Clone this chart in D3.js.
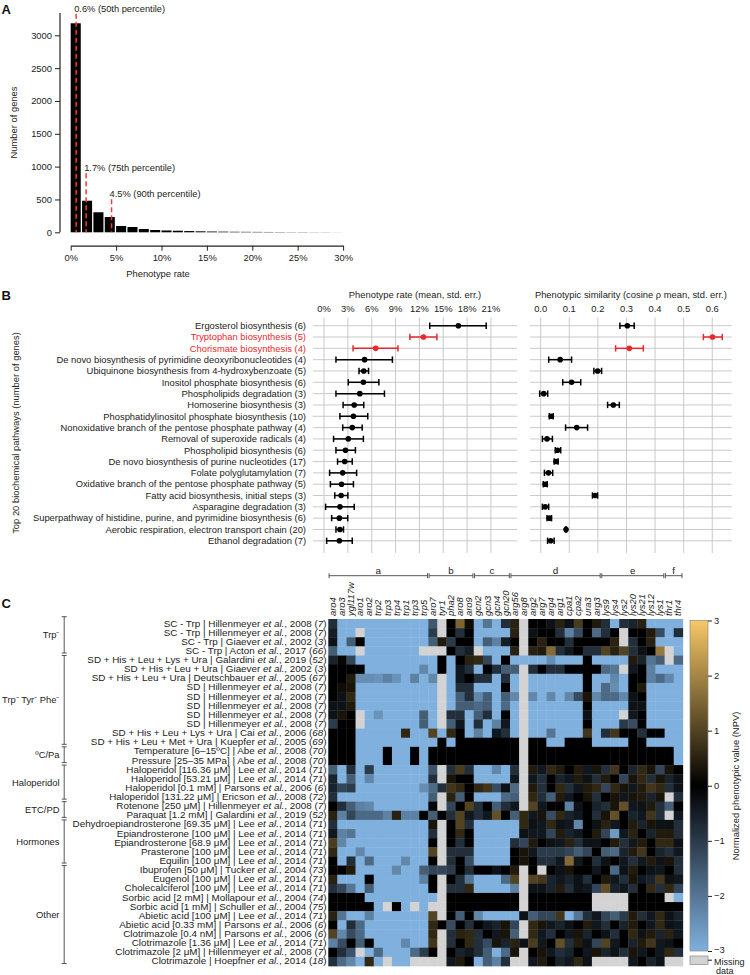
<!DOCTYPE html>
<html><head><meta charset="utf-8">
<script src="https://cdn.jsdelivr.net/npm/d3@7"></script>
<style>
body{margin:0;background:#fff;}
svg{font-family:"Liberation Sans",Arial,Helvetica,sans-serif;}
</style></head><body>
<svg id="chart" width="750" height="975"></svg>
<script>
// ---------------- DATA ----------------
// Panel A: histogram of phenotype rate
const histCounts = [3183, 481, 305, 233, 96, 81, 50, 35, 28, 24, 19, 15, 12, 10, 8, 7, 6, 5, 4, 3, 3, 2, 2, 1];
const histBinWidth = 1.25; // percent
const histYTicks = [0, 500, 1000, 1500, 2000, 2500, 3000];
const histXTicks = [0, 5, 10, 15, 20, 25, 30];
const percentileValues = [0.6, 1.7, 4.5];
const percentileLabels = ["0.6% (50th percentile)", "1.7% (75th percentile)", "4.5% (90th percentile)"];
const percentileLabelAt = [3360, 930, 535]; // in gene counts

// Panel B: pathways
const pathways = ["Ergosterol biosynthesis", "Tryptophan biosynthesis", "Chorismate biosynthesis",
  "De novo biosynthesis of pyrimidine deoxyribonucleotides", "Ubiquinone biosynthesis from 4-hydroxybenzoate",
  "Inositol phosphate biosynthesis", "Phospholipids degradation", "Homoserine biosynthesis",
  "Phosphatidylinositol phosphate biosynthesis", "Nonoxidative branch of the pentose phosphate pathway",
  "Removal of superoxide radicals", "Phospholipid biosynthesis", "De novo biosynthesis of purine nucleotides",
  "Folate polyglutamylation", "Oxidative branch of the pentose phosphate pathway",
  "Fatty acid biosynthesis, initial steps", "Asparagine degradation",
  "Superpathway of histidine, purine, and pyrimidine biosynthesis",
  "Aerobic respiration, electron transport chain", "Ethanol degradation"];
const pathwayGenes = [6, 5, 4, 4, 5, 6, 3, 3, 10, 4, 4, 6, 17, 7, 5, 3, 3, 6, 20, 7];
const highlighted = ["Tryptophan biosynthesis", "Chorismate biosynthesis"];
const rateMean = [16.9, 12.5, 6.5, 5.1, 5.0, 4.95, 4.5, 3.8, 3.7, 3.55, 3.05, 2.7, 2.6, 2.35, 2.2, 2.15, 2.0, 1.93, 2.0, 1.93];
const rateLo   = [13.3, 10.8, 3.65, 1.5, 4.4, 3.05, 1.5, 2.4, 2.0, 2.35, 1.2, 1.5, 1.7, 0.7, 0.8, 1.35, 0.2, 0.96, 1.5, 0.33];
const rateHi   = [20.4, 14.2, 9.3, 8.6, 5.6, 6.9, 7.6, 5.0, 5.5, 4.8, 4.95, 3.95, 3.55, 4.1, 3.7, 3.0, 3.8, 2.98, 2.45, 3.55];
const simMean = [0.303, 0.601, 0.31, 0.068, 0.199, 0.108, 0.0105, 0.254, 0.037, 0.126, 0.022, 0.059, 0.054, 0.027, 0.016, 0.19, 0.016, 0.030, 0.0886, 0.035];
const simLo   = [0.277, 0.569, 0.262, 0.028, 0.186, 0.077, -0.0035, 0.234, 0.030, 0.087, 0.006, 0.051, 0.047, 0.013, 0.009, 0.181, 0.006, 0.022, 0.087, 0.024];
const simHi   = [0.327, 0.635, 0.359, 0.108, 0.213, 0.140, 0.0245, 0.275, 0.044, 0.164, 0.041, 0.070, 0.061, 0.042, 0.023, 0.199, 0.028, 0.038, 0.090, 0.047];
const rateTicks = [0, 3, 6, 9, 12, 15, 18, 21];
const simTicks = [0, 0.1, 0.2, 0.3, 0.4, 0.5, 0.6];

// Panel C: heatmap
const genes = ["aro4","aro3","ygl117w","aro1","aro2","trp2","trp3","trp4","trp1","trp3","trp5","aro7","tyr1","pha2","aro8","aro9","gcn2","gcn3","gcn4","gcn20","arg56","arg8","arg2","arg7","arg4","arg1","cpa1","cpa2","ura3","arg3","lys9","lys4","lys2","lys20","lys21","lys12","lys1","thr1","thr4"];
const geneGroupNames = ["a", "b", "c", "d", "e", "f"];
const geneGroupFirst = [0, 11, 16, 20, 30, 37];
const geneGroupLast  = [10, 15, 19, 29, 36, 38];

const conditions = ["SC - Trp","SC - Trp","SC - Trp","SC - Trp",
  "SD + His + Leu + Lys + Ura","SD + His + Leu + Ura","SD + His + Leu + Ura","SD","SD","SD","SD","SD",
  "SD + His + Leu + Lys + Ura","SD + His + Leu + Met + Ura",
  "Temperature [6\u201315\u00baC]","Pressure [25\u201335 MPa]",
  "Haloperidol [116.36 \u03bcM]","Haloperidol [53.21 \u03bcM]","Haloperidol [0.1 mM]","Haloperidol [131.22 \u03bcM]",
  "Rotenone [250 \u03bcM]","Paraquat [1.2 mM]",
  "Dehydroepiandrosterone [69.35 \u03bcM]","Epiandrosterone [100 \u03bcM]","Epiandrosterone [68.9 \u03bcM]","Prasterone [100 \u03bcM]","Equilin [100 \u03bcM]",
  "Ibuprofen [50 \u03bcM]","Eugenol [100 \u03bcM]","Cholecalciferol [100 \u03bcM]","Sorbic acid [2 mM]","Sorbic acid [1 mM]",
  "Abietic acid [100 \u03bcM]","Abietic acid [0.33 mM]","Clotrimazole [0.4 nM]","Clotrimazole [1.36 \u03bcM]","Clotrimazole [2 \u03bcM]","Clotrimazole"];
const authors = ["Hillenmeyer","Hillenmeyer","Giaever","Acton","Galardini","Giaever","Deutschbauer","Hillenmeyer","Hillenmeyer","Hillenmeyer","Hillenmeyer","Hillenmeyer","Cai","Kuepfer","Abe","Abe","Lee","Lee","Parsons","Ericson","Hillenmeyer","Galardini","Lee","Lee","Lee","Lee","Lee","Tucker","Lee","Lee","Mollapour","Schuller","Lee","Parsons","Parsons","Lee","Hillenmeyer","Hoepfner"];
const years = [2008,2008,2002,2017,2019,2002,2005,2008,2008,2008,2008,2008,2006,2005,2008,2008,2014,2014,2006,2008,2008,2019,2014,2014,2014,2014,2014,2004,2014,2014,2004,2004,2014,2006,2006,2014,2008,2014];
const refs = [7,7,3,66,52,3,67,7,7,7,7,7,68,69,70,70,71,71,6,72,7,52,71,71,71,71,71,73,71,71,74,75,71,6,6,71,7,18];
const condGroupNames = ["Trp\u207b", "Trp\u207b Tyr\u207b Phe\u207b", "\u00baC/Pa", "Haloperidol", "ETC/PD", "Hormones", "Other"];
const condGroupFirst = [0, 4, 14, 16, 20, 22, 27];
const condGroupLast  = [3, 13, 15, 19, 21, 26, 37];

const npv = [
[-0.8,-3,-3,-3,-3,-3,-3,-3,-3,-3,-3,-1.5,null,0,1.5,0.2,-3,-2,-3,-0.8,0.5,null,0,0,-0.3,0.5,-0.3,0.9,0,0.4,-0.8,-3,-0.8,-0.6,0.5,-3,-3,-3,-3],
[-0.5,-3,-3,null,-3,-3,-3,-3,-3,-3,-3,-1.0,null,0,-0.8,0,-3,-3,-3,-3,0.5,null,-0.3,0,0,-0.8,-2.2,-1.3,0,-1.8,-0.8,0,null,0,0,0.4,-1.3,-3,-0.8],
[-0.3,-3,-1.6,0,-3,-3,-3,-3,-3,-3,-3,-1.6,0.4,-1.0,0,0,-3,-1.6,-2.2,-0.5,0,null,0,0.5,0,0,-0.8,0,0,0,0,0.5,null,-0.8,0,0.5,-3,-3,-3],
[-1.6,-3,-3,null,-3,-3,-3,-3,-3,-3,null,null,null,0,-0.8,-0.5,null,-3,-3,-3,0.5,null,0.5,0.4,1.6,-0.8,-0.4,0,-0.8,-0.8,1.0,0.5,1.0,-0.8,-0.3,0,1.8,null,-3],
[-0.6,0.1,-1.2,-3,-3,-3,-3,-3,-3,-3,-3,-3,0,-3,0,0.5,0.6,-1.2,-3,0,-3,-3,-3,-3,-2.4,-3,-3,-3,0,-3,-3,-3,-3,0.4,-0.6,-2.0,-1.6,null,-1.8],
[0,0,0,0,-3,-3,-3,-3,-3,-3,-2.3,-3,0,-3,-0.4,-0.8,-3,0,-0.8,-1.6,-1.6,null,-0.8,0,-0.8,-0.8,0,0,0,0,-1.8,-2.0,null,-0.4,0,-2.2,-3,-3,-3],
[0,0,0.4,-2.4,-2.4,-2.5,-2.2,-2.5,-3,-2.2,-3,-2.3,null,-3,-0.4,0,-0.8,-0.8,-3,-0.8,-3,null,-3,-3,-3,-3,-3,-3,0,-3,-3,-2.3,-3,0,0,-2.2,-1.8,-2.3,-3],
[0,0.2,0.3,-3,-3,-3,-3,-3,-3,-3,-3,-3,null,-3,-0.8,-0.8,-3,-3,-3,0,-3,null,-3,-3,-3,-3,-3,-3,0,-3,-1.8,-2.4,-3,0,0.4,-3,-3,-3,-3],
[0,-0.3,0.6,-3,-3,-3,-3,-3,-3,-3,-3,-3,null,-3,-1.6,-0.8,-2.3,-1.6,-3,-1.6,-2.3,null,-2.3,-3,-2.3,-3,-2.3,-1.3,0.3,-2.3,-1.8,-1.8,-2.3,-0.3,0,-3,-3,-3,-3],
[-0.3,-0.3,0.4,-3,-3,-3,-3,-3,-3,-3,-3,-3,null,-3,-1.6,-1.6,-1.8,-1.6,-3,-1.8,-3,null,-3,-3,-3,-3,-3,-3,0,-3,-3,-3,-3,-0.3,-0.3,-3,-3,-3,-3],
[-0.3,0.3,0,null,-3,-2.5,-3,-3,-3,-3,-1.6,-3,null,-0.8,-0.8,-3,-1.6,-0.8,-3,0,-3,null,-3,-3,-3,-3,-3,-3,-0.3,-3,-3,-3,null,-0.4,0,-3,-3,-3,-3],
[-1.0,0,0,null,-3,-3,-3,-3,-3,-3,-1.6,-3,null,-1.6,-0.4,-3,-0.8,-3,-2.2,-0.4,-3,null,-3,-3,-3,-3,-3,-3,0,-3,-3,-3,-1.0,-1.3,0,-3,-3,-3,-3],
[0,0,0,-3,-3,-3,-3,-3,0.6,-3,-3,1.0,-3,0.6,0,-3,-2.2,-3,-0.4,-0.8,-3,null,-3,-3,-2.0,-3,-3,-3,0.8,-3,-0.8,0.8,0,0,-0.8,0,0,-3,-3],
[0,0,0,-3,-3,-3,-3,-3,-3,-3,-3,-3,0,-3,0,0,0,0,0,0,0,null,0,0,-3,-3,0,0,0,-3,-3,-3,-3,0,0,-3,-3,-3,-3],
[0,0,0,-3,-3,-3,0,-3,-3,0,-3,0,0,0,0,0,0,0,0,0,0,null,0,0,0,0,0,0,0,0,0,0,0,0,0,0,0,0,-3],
[0,0,0,-3,-3,-3,0,-3,-3,0,-3,0,0,0,0,0,0,0,0,0,0,null,0,0,0,0,0,0,0,0,0,0,0,0,0,0,0,0,-3],
[-1.6,-3,-0.8,-3,-1.0,-3,-3,-3,-3,-3,-3,-1.4,null,-0.8,0.9,-0.8,-3,-3,-2.3,-3,-0.8,null,0.4,-0.4,0.6,0.4,0,0.4,-0.4,0.3,-0.8,0.8,0,-0.6,0.6,0.3,-1.2,0.3,0],
[-0.6,-3,-1.6,-3,-2.3,-3,-3,-3,-3,-3,-3,-0.8,null,0.3,0,0,-3,-3,-3,-3,-0.4,null,-0.4,-0.8,0,-0.6,-0.4,0.4,-0.3,-0.8,0.4,0,-1.2,0.3,0.6,-0.8,0.3,-0.6,-0.3],
[-0.6,-1.2,-1.0,-3,-3,-3,-3,-3,-3,-3,-2.4,-1.8,-0.8,0.8,0.6,0,0.6,0.8,-1.3,-0.3,-1.8,null,0.4,-0.8,0,0.6,-0.8,-0.4,0.4,0.6,-1.2,0.6,0.3,-0.4,0.4,0.8,0.6,-0.8,-0.3],
[-0.8,-3,-3,-3,-3,-3,-3,-3,-3,-3,-3,-1.6,null,0.5,-1.6,0,-3,-3,-3,-1.8,-1.6,null,0.6,-0.8,-1.6,0.4,-0.4,0,0.3,-0.8,0,0.3,-0.4,0.3,0.4,-0.6,0.3,null,-0.8],
[0,-0.8,-1.6,-2.2,-2.3,-3,-3,-3,-3,-3,-3,0,null,-1.2,0,1.0,-0.8,0,-1.6,-0.8,-0.4,null,1.0,-0.4,0,0,-2.2,-0.3,0,-0.6,-0.8,0.3,1.2,-0.4,-0.3,0.4,-0.8,-1.6,0],
[0.5,-2.2,-1.2,-1.8,-1.8,-1.8,-2.2,0.5,-2.2,-2.2,0,-1.6,0,-0.8,1.0,-0.4,-0.8,-0.4,1.2,0,-1.6,0.6,-0.4,0.3,-1.3,0.6,-0.6,-0.4,0,-0.8,0.3,1.2,0,-0.6,-0.4,0.8,-0.8,null,-0.4],
[-0.8,-3,-3,-3,-3,-3,-3,-3,-3,-3,-3,0.3,null,0,1.0,-0.8,-3,-3,-3,-3,-3,0.6,-0.3,-0.4,0.6,-0.3,-0.4,-2.3,0,-0.3,0.5,-0.4,0,0.4,-0.6,0.3,-0.3,-0.3,-0.8],
[-0.4,-2.2,-2.0,-3,-3,-3,-3,-3,-3,-3,-3,-0.8,null,0,0.6,0,-3,-3,-3,-3,-3,-0.3,-0.4,-0.4,-1.2,0.4,-0.6,-0.4,0,0.4,-1.2,-2.6,-0.4,0.5,0,-0.6,0.4,0.4,-0.8],
[0.9,-2.3,-3,-3,-3,-3,-3,-3,-3,-3,-3,0,null,0,-0.8,0,-3,-3,-3,-3,-0.8,-1.2,0.4,0,-0.3,-0.4,0.5,-0.8,-0.3,-0.3,0,0.4,-0.8,-0.4,0.4,0,0.6,0.6,-0.3],
[0.6,-3,-3,-2.3,-3,-3,-3,-3,-3,-3,-3,1.0,null,-0.8,-0.8,-0.8,-3,-3,-3,-3,0,0.3,-0.4,-1.0,-1.0,-1.0,-1.2,-1.6,-1.2,0,-1.6,-1.8,-0.6,0.4,0.8,0,-0.6,-0.8,-0.4],
[0,-3,-0.8,-3,-1.8,-3,-3,-3,-2.3,-3,-3,0,null,-0.8,0,-1.3,-3,-3,-3,-3,0,0.3,0,-0.8,-0.8,-0.4,1.6,-0.4,0,-0.8,-0.3,0,-0.4,-0.8,-0.4,0.4,-0.3,0.3,-0.8],
[0,0,0.4,-3,-3,-3,-3,-2.3,-3,-3,-1.6,-1.2,-1.2,-1.0,0,-0.8,0,0,-0.3,0,0.4,null,0,null,0,-0.3,0.3,0,0,-0.4,0,-1.8,-0.3,0.4,0,-0.3,-0.4,0,-0.8],
[0.5,-3,-3,-3,0,-3,-3,-3,-3,-3,-2.2,0,null,0,-0.8,-2.0,-3,-3,-3,-1.8,1.0,null,1.0,0.8,-0.6,-0.4,-0.6,-0.3,-0.8,0,0.4,-0.4,-0.8,0.3,-0.4,-0.6,0.8,-0.3,-0.4],
[-0.8,-1.2,-2.0,-3,-1.6,-3,-3,-3,-3,-3,-3,0,null,-0.8,-0.8,0.6,-3,-3,-3,-3,-2.2,null,-0.3,-0.3,-0.6,0.4,-0.8,-0.3,-0.4,-1.2,1.2,-0.6,-0.4,-0.8,0,0.6,-0.8,0.6,-1.2],
[0,0,0,0,-3,-3,-3,-3,-3,-3,-3,-3,null,0,0,0,0,0,0,0,0,null,0,0,0,0,0,0,0,null,null,null,null,0,0,0,0,null,-3],
[0,0,0,0,0,-3,null,0,-3,null,-3,null,null,0,0,0,0,0,0,0,0,null,0,0,0,0,0,0,0,null,null,null,null,0,0,0,0,0,0],
[0.5,-2.0,-3,-3,-2.2,-3,-3,-3,-3,-3,-3,1.0,null,0,-1.6,0,-2.3,-3,-3,-3,-3,-0.3,-1.6,-1.2,-1.2,0.8,-3,-2.0,-0.8,-0.4,-1.2,-1.6,-1.0,0.4,-0.8,-0.4,0.6,-0.3,-0.6],
[0,-3,-0.8,-1.8,-3,-3,-3,-3,-3,-3,-3,0.6,0,-1.3,0,-0.8,0,-0.4,-0.6,0.3,-1.2,null,0.6,0.3,-0.4,-0.6,-0.3,0,0.4,-0.4,-0.8,0,-0.6,0.4,0,-0.4,0.6,-0.3,-0.4],
[1.0,-2.3,-1.3,-1.8,-3,-3,-3,-3,-3,-3,-3,0.6,null,-0.8,0.5,0.6,-0.8,0,-0.4,0.3,-1.6,null,0.6,-0.4,-0.8,0,-0.4,0.3,-0.6,0,-0.3,-0.8,0,0.6,-0.3,0.4,-0.6,0.5,-0.4],
[-2.2,-1.3,0,-1.6,0,-3,-3,-3,-2.3,-3,-3,0.8,null,-0.8,0,0.6,-0.8,-1.3,0.3,-0.6,0.5,-0.3,0.9,-0.4,0,1.2,-0.8,0.4,-0.3,-1.2,1.0,-0.4,0,-0.6,0.4,0.8,-0.4,-0.3,0],
[0,-0.8,-1.4,null,-3,-1.8,-3,-3,-3,-1.8,-1.0,0,null,0,-0.6,-0.4,-0.8,-1.6,-3,-1.8,0.3,null,0,0.3,-0.4,-0.8,-0.6,0,-0.4,0.3,-0.6,-0.3,-0.8,0.3,-0.4,0,-0.4,0.6,-0.8],
[-0.8,-1.8,-2.3,-3,0.6,-3,null,-3,-3,null,null,null,null,-0.4,0.4,0,-3,-1.6,-2.2,-0.8,null,null,-0.4,0.4,0,-0.6,-0.4,0.6,-0.3,null,null,null,null,-0.4,0,-0.6,-0.3,null,null]
];
const npvTicks = [3, 2, 1, 0, -1, -2, -3];

// ---------------- DRAWING ----------------
const svg = d3.select("#chart");
const INK = "#222";
const RED = "#e8282d";

function label(g, x, y, s, size, anchor, extra) {
  const t = g.append("text").attr("x", x).attr("y", y).attr("font-size", size)
    .attr("fill", INK).attr("text-anchor", anchor || "start").text(s);
  if (extra) extra(t);
  return t;
}
function styleAxis(g, size) {
  g.selectAll("text").attr("font-size", size).attr("fill", INK).attr("font-family", null);
  g.selectAll("line").attr("stroke", INK);
  g.selectAll("path").attr("stroke", INK);
}

// panel letters
[["A", 13.5], ["B", 300], ["C", 608]].forEach(([l, y]) =>
  svg.append("text").attr("x", 1.5).attr("y", y).attr("font-size", 13).attr("font-weight", "bold").attr("fill", "#111").text(l));

// ===== Panel A =====
const gA = svg.append("g");
const xA = d3.scaleLinear().domain([0, 30]).range([70.7, 343.1]);
const yA = d3.scaleLinear().domain([0, 3000]).range([232.3, 35.3]);

gA.selectAll("rect.bar").data(histCounts).join("rect")
  .attr("x", (d, i) => xA(i * histBinWidth))
  .attr("width", (d, i) => xA((i + 1) * histBinWidth) - xA(i * histBinWidth) - 1.3)
  .attr("y", d => yA(d)).attr("height", d => yA(0) - yA(d))
  .attr("fill", "#000");

const axYA = gA.append("g").attr("transform", "translate(60,0)")
  .call(d3.axisLeft(yA).tickValues(histYTicks).tickFormat(d3.format("d")).tickSize(5).tickSizeOuter(0).tickPadding(3));
axYA.select(".domain").remove();
axYA.append("line").attr("x1", 0).attr("x2", 0).attr("y1", yA(0)).attr("y2", yA(3340)).attr("stroke", INK).attr("stroke-width", 1.2);
styleAxis(axYA, 9.4);

const axXA = gA.append("g").attr("transform", "translate(0,245.7)")
  .call(d3.axisBottom(xA).tickValues(histXTicks).tickFormat(d => d + "%").tickSize(5).tickSizeOuter(0).tickPadding(4));
styleAxis(axXA, 9.4);
axXA.select(".domain").attr("stroke-width", 1.2);

label(gA, 158, 276.5, "Phenotype rate", 9.4, "middle");
label(gA, 0, 0, "Number of genes", 9.4, "middle", t => t.attr("transform", "translate(16.5,122.5) rotate(-90)"));

percentileValues.forEach((v, i) => {
  gA.append("line").attr("x1", xA(v)).attr("x2", xA(v))
    .attr("y1", yA(percentileLabelAt[i]) + 2).attr("y2", yA(0))
    .attr("stroke", "#ee3b3b").attr("stroke-width", 1.5).attr("stroke-dasharray", "5,3");
  label(gA, xA(v) - 2, yA(percentileLabelAt[i]), percentileLabels[i], 9.3, "start");
});

// ===== Panel B =====
const gB = svg.append("g");
const yB = d3.scalePoint().domain(pathways).range([325.7, 540.8]);
const xB1 = d3.scaleLinear().domain([-1.4, 24.3]).range([312.9, 517.2]);
const xB2 = d3.scaleLinear().domain([-0.0374, 0.668]).range([530, 731.7]);
const GRID = "#c4c4c4";
const yTop = 317.5, yBot = 553;

function drawDotPlot(x, ticks, fmt, mean, lo, hi, title) {
  const g = gB.append("g");
  const [r0, r1] = x.range();
  ticks.forEach(t => {
    g.append("line").attr("x1", x(t)).attr("x2", x(t)).attr("y1", yTop).attr("y2", yBot).attr("stroke", GRID).attr("stroke-width", 0.9);
    label(g, x(t), 312, fmt(t), 9.4, "middle");
  });
  pathways.forEach(p => {
    g.append("line").attr("x1", r0).attr("x2", r1).attr("y1", yB(p)).attr("y2", yB(p)).attr("stroke", GRID).attr("stroke-width", 0.9);
  });
  label(g, (r0 + r1) / 2, 298, title, 9.4, "middle");
  pathways.forEach((p, i) => {
    const c = highlighted.includes(p) ? RED : "#000";
    const y = yB(p);
    g.append("line").attr("x1", x(lo[i])).attr("x2", x(hi[i])).attr("y1", y).attr("y2", y).attr("stroke", c).attr("stroke-width", 1.5);
    [lo[i], hi[i]].forEach(v => g.append("line").attr("x1", x(v)).attr("x2", x(v)).attr("y1", y - 3.2).attr("y2", y + 3.2).attr("stroke", c).attr("stroke-width", 1.5));
    g.append("circle").attr("cx", x(mean[i])).attr("cy", y).attr("r", 2.8).attr("fill", c);
  });
}
drawDotPlot(xB1, rateTicks, d => d + "%", rateMean, rateLo, rateHi, "Phenotype rate (mean, std. err.)");
drawDotPlot(xB2, simTicks, d3.format(".1f"), simMean, simLo, simHi, "Phenotypic similarity (cosine \u03c1 mean, std. err.)");

pathways.forEach((p, i) => {
  label(gB, 306, yB(p) + 3.3, `${p} (${pathwayGenes[i]})`, 9.4, "end", t => { if (highlighted.includes(p)) t.attr("fill", RED); });
});
label(gB, 0, 0, "Top 20 biochemical pathways (number of genes)", 9.4, "middle", t => t.attr("transform", "translate(19,433) rotate(-90)"));

// ===== Panel C =====
const gC = svg.append("g");
const xC = d3.scaleBand().domain(d3.range(genes.length)).range([328.3, 682.8]);
const yC = d3.scaleBand().domain(d3.range(conditions.length)).range([619, 966]);
const color = d3.scaleLinear().domain([-3, 0, 3]).range(["#7fb0de", "#000000", "#f7c866"]).clamp(true);
const MISSING = "#d3d3d3";

npv.forEach((row, i) => row.forEach((v, j) => {
  gC.append("rect").attr("x", xC(j)).attr("y", yC(i))
    .attr("width", xC.bandwidth() + 0.35).attr("height", yC.bandwidth() + 0.35)
    .attr("fill", v === null ? MISSING : color(v));
}));

// gene labels
genes.forEach((g, j) => {
  gC.append("text").attr("transform", `translate(${xC(j) + xC.bandwidth() / 2 + 3.2},616) rotate(-90)`)
    .attr("font-size", 9.4).attr("font-style", "italic").attr("fill", INK).text(g);
});
// gene group brackets
geneGroupNames.forEach((n, k) => {
  const x1 = xC(geneGroupFirst[k]) + 0.8, x2 = xC(geneGroupLast[k]) + xC.bandwidth() - 0.8, y = 575.7;
  gC.append("line").attr("x1", x1).attr("x2", x2).attr("y1", y).attr("y2", y).attr("stroke", "#444").attr("stroke-width", 0.9);
  [x1, x2].forEach(x => gC.append("line").attr("x1", x).attr("x2", x).attr("y1", y - 2.5).attr("y2", y + 2.5).attr("stroke", "#444").attr("stroke-width", 0.9));
  label(gC, (x1 + x2) / 2, 573.5, n, 9.8, "middle");
});

// row labels
conditions.forEach((c, i) => {
  const t = gC.append("text").attr("x", 326.5).attr("y", yC(i) + yC.bandwidth() / 2 + 3)
    .attr("text-anchor", "end").attr("font-size", 9.85).attr("fill", INK);
  t.append("tspan").text(`${c} | ${authors[i]} `);
  t.append("tspan").attr("font-style", "italic").text("et al.");
  t.append("tspan").text(`, ${years[i]} (`);
  t.append("tspan").attr("font-style", "italic").text(refs[i]);
  t.append("tspan").text(")");
});

// condition group brackets
condGroupNames.forEach((n, k) => {
  const y1 = yC(condGroupFirst[k]) - (k === 0 ? 2.3 : 0);
  const y2 = yC(condGroupLast[k]) + yC.bandwidth() - 2.5;
  const x = 64.2;
  gC.append("line").attr("x1", x).attr("x2", x).attr("y1", y1).attr("y2", y2).attr("stroke", "#444").attr("stroke-width", 0.9);
  [y1, y2].forEach(y => gC.append("line").attr("x1", x - 2.5).attr("x2", x + 2.5).attr("y1", y).attr("y2", y).attr("stroke", "#444").attr("stroke-width", 0.9));
  label(gC, 59.5, (y1 + y2) / 2 + 3.4, n, 9.4, "end");
});

// color legend
const yL = d3.scaleLinear().domain([-3, 3]).range([951, 620.5]);
const defs = svg.append("defs");
const grad = defs.append("linearGradient").attr("id", "npvgrad").attr("x1", 0).attr("x2", 0).attr("y1", 1).attr("y2", 0);
d3.range(-3, 3.01, 0.25).forEach(v => grad.append("stop").attr("offset", (v + 3) / 6).attr("stop-color", color(v)));
gC.append("rect").attr("x", 690).attr("y", yL(3)).attr("width", 18).attr("height", yL(-3) - yL(3))
  .attr("fill", "url(#npvgrad)").attr("stroke", "#8a8a8a").attr("stroke-width", 0.7);
const axL = gC.append("g").attr("transform", "translate(708,0)")
  .call(d3.axisRight(yL).tickValues(npvTicks).tickFormat(d3.format("d")).tickSize(4).tickSizeOuter(0).tickPadding(2));
axL.select(".domain").remove();
styleAxis(axL, 9.4);
axL.selectAll(".tick text").filter(d => d === -3).attr("dy", "0.15em");
gC.append("rect").attr("x", 690).attr("y", 956).attr("width", 18).attr("height", 8.5)
  .attr("fill", MISSING).attr("stroke", "#8a8a8a").attr("stroke-width", 0.7);
gC.append("line").attr("x1", 708).attr("x2", 712).attr("y1", 960.2).attr("y2", 960.2).attr("stroke", INK);
label(gC, 714, 965, "Missing", 9, "start");
label(gC, 716, 974, "data", 9, "start");
label(gC, 0, 0, "Normalized phenotypic value (NPV)", 9.4, "middle", t => t.attr("transform", "translate(739,786) rotate(-90)"));
</script></body></html>
